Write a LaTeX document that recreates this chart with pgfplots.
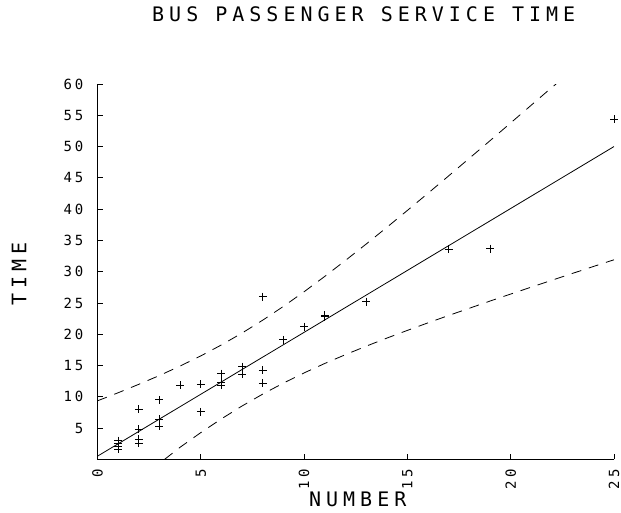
\documentclass[border=0pt]{standalone}
\usepackage{fontspec}
\usepackage{pgfplots}
\pgfplotsset{compat=1.18}
\newfontfamily\plotfont[LetterSpace=20]{DejaVu Sans Mono}
\newfontfamily\plotfontwide[LetterSpace=25]{DejaVu Sans Mono}
\newcommand\bigplot{\plotfontwide\fontsize{20}{24}\selectfont}
\newcommand\smallplot{\plotfont\fontsize{14}{16}\selectfont}

\begin{document}
\begin{tikzpicture}
\begin{axis}[
    name=ax,
    scale only axis, width=516.5pt, height=375.3pt,
    xmin=0, xmax=25, ymin=0, ymax=60,
    axis lines=left, axis line style={-, line width=0.8pt},
    tick align=inside, major tick length=5pt,
    tick style={line width=0.8pt, black},
    xtick={0,5,...,25}, ytick={5,10,...,60},
    /pgf/number format/assume math mode=true,
    ticklabel style={font=\smallplot, inner sep=0pt},
    xticklabel style={rotate=90, anchor=east},
    xticklabel shift=10pt, yticklabel shift=14pt,
    title=BUS PASSENGER SERVICE TIME,
    title style={font=\bigplot, anchor=center,
        at={([xshift=8pt, yshift=64pt]axis description cs:0.5,1)}},
    xlabel=NUMBER,
    xlabel style={font=\bigplot, anchor=center, inner sep=1pt,
        at={([xshift=2pt, yshift=-40pt]axis description cs:0.5,0)}},
    ylabel=TIME,
    ylabel style={font=\bigplot, anchor=center,
        at={([xshift=-78.5pt, yshift=-2pt]axis description cs:0,0.5)}},
]

% observations
\addplot[only marks, mark=+, mark size=4pt, mark options={line width=0.8pt}] coordinates {
    (1,3.0) (1,2.5) (1,2.0) (1,1.6)
    (2,8.0) (2,4.8) (2,3.2) (2,2.6)
    (3,9.5) (3,6.4) (3,5.3)
    (4,11.8)
    (5,12.0) (5,7.6)
    (6,13.7) (6,12.3) (6,11.8)
    (7,14.8) (7,13.6)
    (8,26.0) (8,14.2) (8,12.2)
    (9,19.1) (10,21.2) (11,22.8) (11,23.0)
    (13,25.2) (17,33.6) (19,33.7) (25,54.4)
};

% fitted line
\addplot[line width=0.8pt] coordinates {(0,0.5) (25,50.0)};

% upper band
\addplot[line width=0.8pt, dash pattern=on 10pt off 8pt] coordinates {
    (0,9.35) (1,10.64) (2,11.99) (3,13.40) (4,14.91) (5,16.53) (6,18.29)
    (7,20.19) (8,22.25) (9,24.45) (10,26.79) (11,29.24) (12,31.79)
    (13,34.40) (14,37.07) (15,39.79) (16,42.54) (17,45.32) (18,48.13)
    (19,50.94) (20,53.78) (21,56.63) (22,59.48) (22.2,60)
};

% lower band
\addplot[line width=0.8pt, dash pattern=on 10pt off 8pt] coordinates {
    (3.25,0) (4,1.93) (5,4.27) (6,6.47) (7,8.53) (8,10.43) (9,12.19)
    (10,13.81) (11,15.32) (12,16.73) (13,18.08) (14,19.37) (15,20.61)
    (16,21.82) (17,23.00) (18,24.15) (19,25.30) (20,26.42) (21,27.53)
    (22,28.64) (23,29.73) (24,30.82) (25,31.90)
};
\end{axis}
\pgfresetboundingbox
\path[use as bounding box] ([xshift=-97.5pt, yshift=-52.7pt]ax.south west) rectangle ++(621pt,512pt);
\end{tikzpicture}
\end{document}
